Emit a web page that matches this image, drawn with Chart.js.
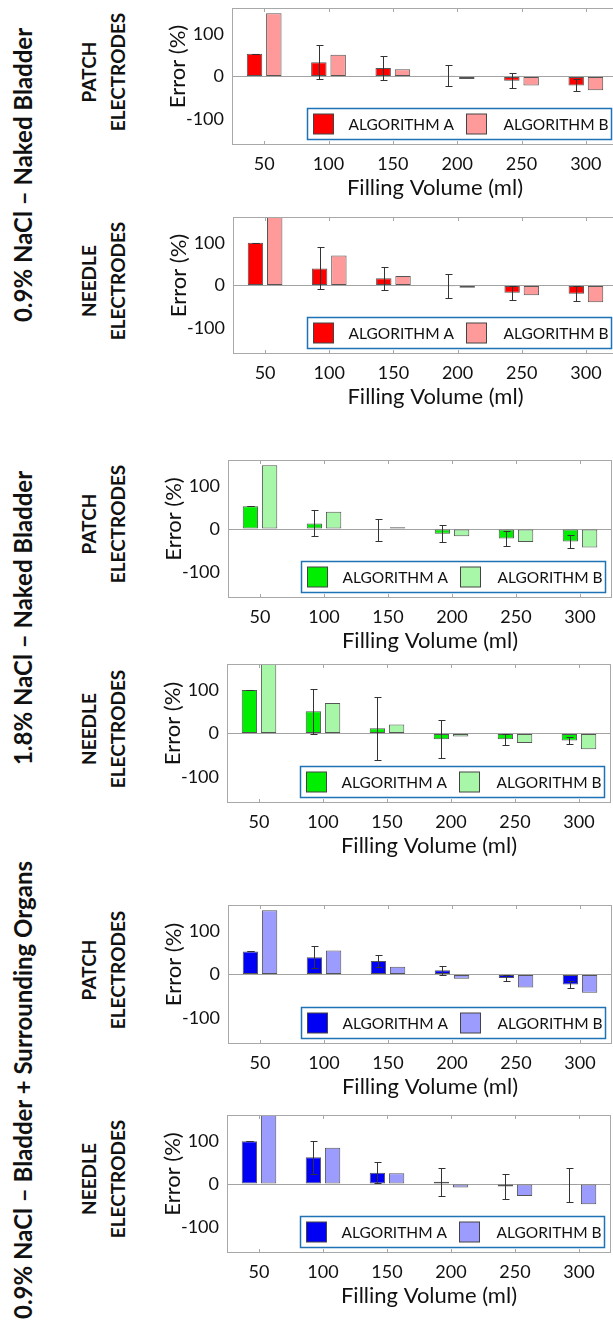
<!DOCTYPE html>
<html><head><meta charset="utf-8">
<script src="https://cdn.jsdelivr.net/npm/chart.js@4.4.1/dist/chart.umd.min.js"></script>
<style>
html,body{margin:0;padding:0;background:#fff;width:613px;height:1326px;overflow:hidden;}
#root{position:relative;width:613px;height:1326px;overflow:hidden;background:#fff;}
canvas{position:absolute;}
.rot{position:absolute;transform:translate(-50%,-50%) rotate(-90deg);white-space:nowrap;text-align:center;font-family:Lato,'Open Sans',sans-serif;font-weight:bold;color:#111;}
.grp{font-size:24px;line-height:28px;}
.elec{font-size:19px;line-height:29px;}
</style></head><body><div id="root"></div>
<script>
// ---------- data ----------
const categories = ['50', '100', '150', '200', '250', '300'];
const yTicks = [-100, 0, 100];
const seriesNames = ['ALGORITHM A', 'ALGORITHM B'];

// 0.9% NaCl - Naked Bladder, PATCH
const p1A    = [53, 33, 20, 2, -10, -21];
const p1AErr = [0, 40, 28, 24, 18, 14];
const p1B    = [148, 51, 17, -6, -21, -32];
// 0.9% NaCl - Naked Bladder, NEEDLE
const p2A    = [100, 40, 17, -2, -17, -19];
const p2AErr = [0, 49, 27, 28, 17, 17];
const p2B    = [175, 70, 22, -5, -23, -39];
// 1.8% NaCl - Naked Bladder, PATCH
const p3A    = [53, 13, -2, -11, -22, -29];
const p3AErr = [0, 30, 25, 20, 18, 15];
const p3B    = [148, 40, 4, -17, -30, -43];
// 1.8% NaCl - Naked Bladder, NEEDLE
const p4A    = [100, 51, 12, -13, -13, -16];
const p4AErr = [0, 51, 72, 43, 13, 8];
const p4B    = [175, 70, 21, -7, -22, -36];
// 0.9% NaCl - Bladder + Surrounding Organs, PATCH
const p5A    = [53, 40, 31, 10, -8, -23];
const p5AErr = [0, 26, 13, 10, 7, 9];
const p5B    = [148, 55, 18, -10, -30, -42];
// 0.9% NaCl - Bladder + Surrounding Organs, NEEDLE
const p6A    = [99, 62, 26, 5, -6, -2];
const p6AErr = [0, 38, 24, 32, 29, 39];
const p6B    = [175, 84, 25, -8, -28, -47];

const groupLabels = ['0.9% NaCl – Naked Bladder', '1.8% NaCl – Naked Bladder', '0.9% NaCl – Bladder + Surrounding Organs'];
const electrodeLabels = [['PATCH', 'ELECTRODES'], ['NEEDLE', 'ELECTRODES']];
const xTitle = 'Filling Volume (ml)';
const yTitle = 'Error (%)';

// ---------- styles / layout ----------
const red   = ['#ff0000', '#ff9a9a'];
const green = ['#00ee00', '#a8f7a8'];
const blue  = ['#0000f5', '#9c9cff'];

const panels = [
  {A: p1A, E: p1AErr, B: p1B, col: red,   elec: 0, area: {l: 232, r: 618, t: 8,    b: 145}},
  {A: p2A, E: p2AErr, B: p2B, col: red,   elec: 1, area: {l: 233, r: 618, t: 217,  b: 354}},
  {A: p3A, E: p3AErr, B: p3B, col: green, elec: 0, area: {l: 228, r: 612, t: 460,  b: 598}},
  {A: p4A, E: p4AErr, B: p4B, col: green, elec: 1, area: {l: 227, r: 611, t: 664,  b: 803}},
  {A: p5A, E: p5AErr, B: p5B, col: blue,  elec: 0, area: {l: 228, r: 612, t: 905,  b: 1044}},
  {A: p6A, E: p6AErr, B: p6B, col: blue,  elec: 1, area: {l: 227, r: 611, t: 1115, b: 1253}},
];
const groupCenters = [175, 618, 1090];

const FONT = 'Lato, "Open Sans", sans-serif';
const root = document.getElementById('root');

function addRot(cls, html, cx, cy) {
  const d = document.createElement('div');
  d.className = 'rot ' + cls;
  d.innerHTML = html;
  d.style.left = cx + 'px';
  d.style.top = cy + 'px';
  root.appendChild(d);
}
groupLabels.forEach((t, i) => addRot('grp', t, 23, groupCenters[i]));
panels.forEach(p => {
  const lab = electrodeLabels[p.elec];
  addRot('elec', lab[0] + '<br>' + lab[1], 103, (p.area.t + p.area.b) / 2 - 5);
});

const decor = {
  id: 'decor',
  afterDatasetsDraw(chart) {
    const ctx = chart.ctx, a = chart.chartArea;
    const ys = chart.scales.y, xs = chart.scales.x;
    const dsA = chart.data.datasets[0], dsB = chart.data.datasets[1];
    const meta = chart.getDatasetMeta(0);
    // error bars
    ctx.save();
    ctx.beginPath(); ctx.rect(a.left, a.top, a.right - a.left, a.bottom - a.top); ctx.clip();
    ctx.strokeStyle = '#333'; ctx.lineWidth = 1;
    meta.data.forEach((bar, i) => {
      const v = dsA.data[i], e = dsA.errors[i];
      const x = Math.round(bar.x) + 0.5;
      const y1 = Math.round(ys.getPixelForValue(v + e)) + 0.5;
      const y2 = Math.round(ys.getPixelForValue(v - e)) + 0.5;
      ctx.beginPath();
      ctx.moveTo(x, y1); ctx.lineTo(x, y2);
      ctx.moveTo(x - 3, y1); ctx.lineTo(x + 4, y1);
      ctx.moveTo(x - 3, y2); ctx.lineTo(x + 4, y2);
      ctx.stroke();
    });
    ctx.restore();
    // box + inner ticks
    ctx.save();
    ctx.strokeStyle = '#a8a8a8'; ctx.lineWidth = 1;
    ctx.strokeRect(Math.round(a.left) + 0.5, Math.round(a.top) + 0.5, Math.round(a.right - a.left) - 1, Math.round(a.bottom - a.top) - 1);
    ctx.beginPath();
    xs.ticks.forEach((t, i) => {
      const x = Math.round(xs.getPixelForTick(i)) + 0.5;
      ctx.moveTo(x, a.top); ctx.lineTo(x, a.top + 4);
      ctx.moveTo(x, a.bottom); ctx.lineTo(x, a.bottom - 4);
    });
    ctx.stroke();
    ctx.restore();
    // legend
    ctx.save();
    const lw = 304, lh = 31;
    const lx = Math.round(a.right - 7 - lw) + 0.5, ly = Math.round(a.bottom - 6 - lh) + 0.5;
    ctx.fillStyle = '#fff';
    ctx.fillRect(lx, ly, lw, lh);
    ctx.strokeStyle = '#1f72b4'; ctx.lineWidth = 1.5;
    ctx.strokeRect(lx, ly, lw, lh);
    const items = [[dsA, 6, 41], [dsB, 159, 196]];
    ctx.font = '15.5px ' + FONT;
    ctx.textBaseline = 'middle'; ctx.textAlign = 'left';
    items.forEach(([ds, sx, tx]) => {
      ctx.fillStyle = ds.backgroundColor;
      ctx.fillRect(lx + sx, ly + 5.5, 20, 20);
      ctx.strokeStyle = '#444'; ctx.lineWidth = 1;
      ctx.strokeRect(lx + sx, ly + 5.5, 20, 20);
      ctx.fillStyle = '#111';
      ctx.fillText(ds.label, lx + tx, ly + lh / 2 + 1);
    });
    ctx.restore();
    // axis titles
    ctx.save();
    ctx.fillStyle = '#111';
    ctx.font = '22px ' + FONT;
    ctx.textAlign = 'center'; ctx.textBaseline = 'middle';
    ctx.fillText(xTitle, (a.left + a.right) / 2 + 10, a.bottom + 43);
    ctx.translate(a.left - 54, (a.top + a.bottom) / 2 - 10);
    ctx.rotate(-Math.PI / 2);
    ctx.fillText(yTitle, 0, 0);
    ctx.restore();
  }
};

const Y_W = 90, X_H = 60, TOP_PAD = 8;
panels.forEach(p => {
  const c = document.createElement('canvas');
  const left = p.area.l - Y_W, top = p.area.t - TOP_PAD;
  const w = p.area.r - left, h = p.area.b - top + X_H;
  c.width = w; c.height = h;
  c.style.left = left + 'px'; c.style.top = top + 'px';
  c.style.width = w + 'px'; c.style.height = h + 'px';
  root.appendChild(c);
  new Chart(c, {
    type: 'bar',
    data: {
      labels: categories,
      datasets: [
        {label: seriesNames[0], data: p.A, errors: p.E, backgroundColor: p.col[0], borderColor: '#555', borderWidth: 1, borderSkipped: false, clip: 0},
        {label: seriesNames[1], data: p.B, backgroundColor: p.col[1], borderColor: '#555', borderWidth: 1, borderSkipped: false, clip: 0}
      ]
    },
    options: {
      responsive: false, animation: false, devicePixelRatio: 1,
      categoryPercentage: 0.6, barPercentage: 0.8,
      layout: {padding: {top: TOP_PAD, left: 0, right: 0, bottom: 0}},
      plugins: {legend: {display: false}, tooltip: {enabled: false}},
      scales: {
        x: {
          grid: {display: false, drawTicks: false}, border: {display: false},
          ticks: {font: {family: FONT, size: 18}, color: '#111', padding: 8, maxRotation: 0, autoSkip: false},
          afterFit(s) { s.height = X_H; s.paddingLeft = 0; s.paddingRight = 0; }
        },
        y: {
          min: -160, max: 160,
          afterBuildTicks(s) { s.ticks = yTicks.map(v => ({value: v})); },
          grid: {drawTicks: false, lineWidth: 1, color: ctx => (ctx.tick && ctx.tick.value === 0) ? '#a3a3a3' : 'rgba(0,0,0,0)'},
          border: {display: false},
          ticks: {font: {family: FONT, size: 18}, color: '#111', padding: 8},
          afterFit(s) { s.width = Y_W; s.paddingTop = 0; s.paddingBottom = 0; }
        }
      }
    },
    plugins: [decor]
  });
});
</script>
</body></html>
